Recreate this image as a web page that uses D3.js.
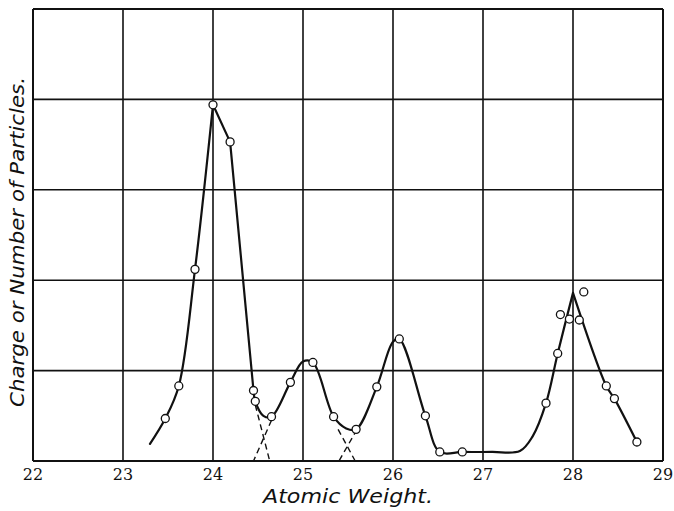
<!DOCTYPE html>
<html>
<head>
<meta charset="utf-8">
<script src="https://cdn.jsdelivr.net/npm/d3@7"></script>
<style>
  body { margin: 0; background: #fff; }
  svg { display: block; }
</style>
</head>
<body>
<div id="chart"></div>
<script>

// x ticks (atomic weight) and y grid divisions
const xTicks = [22, 23, 24, 25, 26, 27, 28, 29];
const yTicks = [0, 1, 2, 3, 4, 5];

// measured points (atomic weight, charge)
const pointX = [23.47, 23.62, 23.80, 24.00, 24.19, 24.45, 24.47, 24.65, 24.86, 25.11,
                25.34, 25.59, 25.82, 26.07, 26.36, 26.52, 26.77,
                27.70, 27.83, 27.86, 27.96, 28.07, 28.12, 28.37, 28.46, 28.71];
const pointY = [0.47, 0.83, 2.12, 3.94, 3.53, 0.78, 0.66, 0.49, 0.87, 1.09,
                0.49, 0.35, 0.82, 1.35, 0.50, 0.10, 0.10,
                0.64, 1.19, 1.62, 1.57, 1.56, 1.87, 0.83, 0.69, 0.21];

// drawn curve through the points
const curveX = [23.30, 23.47, 23.62, 23.80, 24.00, 24.19, 24.45, 24.47, 24.56, 24.65,
                24.86, 25.00, 25.11, 25.34, 25.48, 25.59, 25.82, 26.00, 26.07, 26.36,
                26.52, 26.77, 27.10, 27.41, 27.55, 27.70, 27.83, 28.00,
                28.37, 28.46, 28.71];
const curveY = [0.19, 0.47, 0.83, 2.12, 3.94, 3.53, 0.78, 0.66, 0.50, 0.49,
                0.87, 1.10, 1.09, 0.49, 0.36, 0.35, 0.82, 1.32, 1.35, 0.50,
                0.10, 0.10, 0.10, 0.11, 0.27, 0.64, 1.19, 1.86,
                0.83, 0.69, 0.21];
// where the drawn line has a sharp corner
const cornerX = [24.00, 24.19, 24.45, 28.00];

// dashed extrapolations of the peaks down to the axis
const dashLines = [
  [[24.47, 0.62], [24.63, 0.0]],
  [[24.65, 0.45], [24.45, 0.0]],
  [[25.39, 0.35], [25.58, 0.0]],
  [[25.60, 0.35], [25.40, 0.0]]
];

const width = 674, height = 511;
const margin = {top: 9, right: 11, bottom: 50, left: 33};

const svg = d3.select("#chart").append("svg")
    .attr("width", width)
    .attr("height", height);

const x = d3.scaleLinear().domain([22, 29]).range([margin.left, width - margin.right]);
const y = d3.scaleLinear().domain([0, 5]).range([height - margin.bottom, margin.top]);

// grid
svg.append("g")
    .selectAll("line")
    .data(xTicks)
    .join("line")
    .attr("x1", d => x(d)).attr("x2", d => x(d))
    .attr("y1", y(0)).attr("y2", y(5))
    .attr("stroke", "#111")
    .attr("stroke-width", d => (d === 22 || d === 29) ? 2 : 1.6);

svg.append("g")
    .selectAll("line")
    .data(yTicks)
    .join("line")
    .attr("x1", x(22)).attr("x2", x(29))
    .attr("y1", d => y(d)).attr("y2", d => y(d))
    .attr("stroke", "#111")
    .attr("stroke-width", d => (d === 0 || d === 5) ? 2 : 1.6);

// tick labels
svg.append("g")
    .selectAll("text")
    .data(xTicks)
    .join("text")
    .attr("x", d => x(d))
    .attr("y", y(0) + 19)
    .attr("text-anchor", "middle")
    .attr("font-family", "DejaVu Serif, serif")
    .attr("font-size", 16)
    .attr("fill", "#111")
    .text(d => d);

// dashed lines
const line = d3.line().x(d => x(d[0])).y(d => y(d[1]));

svg.append("g")
    .selectAll("path")
    .data(dashLines)
    .join("path")
    .attr("d", line)
    .attr("fill", "none")
    .attr("stroke", "#111")
    .attr("stroke-width", 1.4)
    .attr("stroke-dasharray", "6,4");

// curve, split into smooth runs at the corners
const curvePts = curveX.map((d, i) => [d, curveY[i]]);
const runs = [];
let run = [];
curvePts.forEach(p => {
    run.push(p);
    if (cornerX.includes(p[0])) {
        runs.push(run);
        run = [p];
    }
});
if (run.length > 1) runs.push(run);

const smooth = d3.line()
    .x(d => x(d[0])).y(d => y(d[1]))
    .curve(d3.curveCatmullRom.alpha(0.5));

svg.append("path")
    .attr("d", runs.map(r => smooth(r)).join(""))
    .attr("fill", "none")
    .attr("stroke", "#111")
    .attr("stroke-width", 2.2)
    .attr("stroke-linejoin", "round")
    .attr("stroke-linecap", "round");

// points
svg.append("g")
    .selectAll("circle")
    .data(pointX.map((d, i) => [d, pointY[i]]))
    .join("circle")
    .attr("cx", d => x(d[0]))
    .attr("cy", d => y(d[1]))
    .attr("r", 4)
    .attr("fill", "#fff")
    .attr("stroke", "#111")
    .attr("stroke-width", 1.3);

// axis titles
svg.append("text")
    .attr("x", 348)
    .attr("y", 503)
    .attr("text-anchor", "middle")
    .attr("font-family", "DejaVu Sans, sans-serif")
    .attr("font-style", "italic")
    .attr("font-size", 19)
    .attr("textLength", 170)
    .attr("lengthAdjust", "spacingAndGlyphs")
    .attr("fill", "#111")
    .text("Atomic Weight.");

svg.append("text")
    .attr("transform", "translate(24,242) rotate(-90)")
    .attr("text-anchor", "middle")
    .attr("font-family", "DejaVu Sans, sans-serif")
    .attr("font-style", "italic")
    .attr("font-size", 19)
    .attr("textLength", 330)
    .attr("lengthAdjust", "spacingAndGlyphs")
    .attr("fill", "#111")
    .text("Charge or Number of Particles.");

</script>
</body>
</html>
